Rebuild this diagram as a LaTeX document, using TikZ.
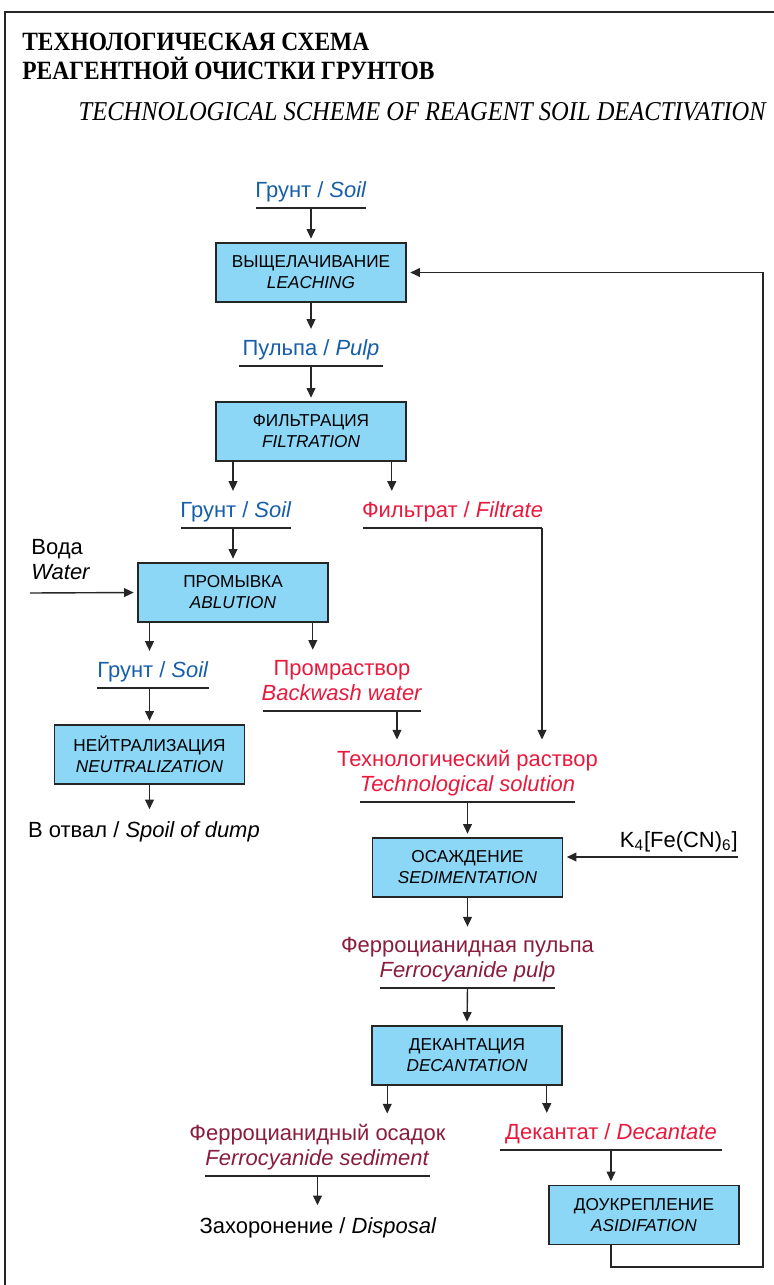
\documentclass[tikz,border=0pt]{standalone}
\usepackage{fontspec}
\setmainfont{Liberation Sans}
\newfontfamily\ttlfont[FakeStretch=0.89]{Liberation Serif}
\newfontfamily\subfont[FakeStretch=0.9]{Liberation Serif}
\usetikzlibrary{arrows.meta,positioning}
\definecolor{soilblue}{HTML}{165EAA}
\definecolor{fred}{HTML}{E8193C}
\definecolor{fmaroon}{HTML}{8A1C3C}
\definecolor{boxfill}{HTML}{8CD6F6}
\definecolor{linegray}{HTML}{262626}
\tikzset{
  proc/.style={draw=linegray, line width=.9pt, fill=boxfill, minimum width=3.8cm,
    minimum height=1.18cm, align=center, inner sep=0pt,
    font=\fontsize{9.8}{12}\selectfont},
  lbl/.style={anchor=south, inner xsep=0pt, inner ysep=.13cm, text depth=.08cm,
    align=center, font=\fontsize{12.5}{14.2}\selectfont},
  txt/.style={inner sep=.16cm, align=center, font=\fontsize{12.5}{14.2}\selectfont},
  arr/.style={draw=linegray, line width=.8pt, -{Triangle[length=5.5pt,width=5pt]},
    shorten >=2pt},
  uline/.style={draw=linegray, line width=.8pt},
  ttl/.style={inner sep=0pt, font=\ttlfont\bfseries\fontsize{15}{18}\selectfont},
  subttl/.style={inner sep=0pt, font=\subfont\itshape\fontsize{15.5}{18}\selectfont},
}
\begin{document}
\begin{tikzpicture}[x=0.02cm, y=-0.02cm]
  \useasboundingbox (0,0) rectangle (774,1285);
  \draw[linegray, line width=.85pt] (5,1290) -- (5,12) -- (780,12);

  \node[ttl, anchor=base west] (ttl1) at (22,50) {ТЕХНОЛОГИЧЕСКАЯ СХЕМА};
  \node[ttl, anchor=base west] (ttl2) at (22,79) {РЕАГЕНТНОЙ ОЧИСТКИ ГРУНТОВ};
  \node[subttl, anchor=base east] (sub) at (766,120) {TECHNOLOGICAL SCHEME OF REAGENT SOIL DEACTIVATION};

  \node[lbl, text=soilblue] (soil1) at (311,208) {Грунт / \textit{Soil}};
  \node[proc] (leach) at (311,272.5) {ВЫЩЕЛАЧИВАНИЕ\\\textit{LEACHING}};
  \node[lbl, text=soilblue] (pulp) at (311,366) {Пульпа / \textit{Pulp}};
  \node[proc] (filt) at (311,431.5) {ФИЛЬТРАЦИЯ\\\textit{FILTRATION}};
  \node[lbl, text=soilblue] (soil2) at (236,528) {Грунт / \textit{Soil}};
  \node[lbl, text=fred] (filtr) at (452.5,528) {Фильтрат / \textit{Filtrate}};
  \node[proc] (abl) at (233,592.5) {ПРОМЫВКА\\\textit{ABLUTION}};
  \node[txt, anchor=south west, inner sep=0pt, text depth=0pt, align=left] (water) at (31,580) {Вода\\\textit{Water}};
  \coordinate (win) at (30,593);
  \node[lbl, text=soilblue] (soil3) at (153,688) {Грунт / \textit{Soil}};
  \node[lbl, text=fred] (wash) at (342,711) {Промраствор\\\textit{Backwash water}};
  \node[proc] (neut) at (149.5,754.5) {НЕЙТРАЛИЗАЦИЯ\\\textit{NEUTRALIZATION}};
  \node[txt, anchor=base] (dump) at (144,837) {В отвал / \textit{Spoil of dump}};
  \node[lbl, text=fred] (tech) at (467.5,802) {Технологический раствор\\\textit{Technological solution}};
  \node[proc] (sed) at (467.5,867.5) {ОСАЖДЕНИЕ\\\textit{SEDIMENTATION}};
  \node[txt, anchor=base east, inner sep=0pt] (k4) at (738,847) {K\textsubscript{4}[Fe(CN)\textsubscript{6}]};
  \coordinate (kin) at (738,857);
  \node[lbl, text=fmaroon] (fpulp) at (467.5,988) {Ферроцианидная пульпа\\\textit{Ferrocyanide pulp}};
  \node[proc] (dec) at (467,1055.5) {ДЕКАНТАЦИЯ\\\textit{DECANTATION}};
  \node[lbl, text=fmaroon] (fsed) at (317.5,1176) {Ферроцианидный осадок\\\textit{Ferrocyanide sediment}};
  \node[lbl, text=fred] (decant) at (611,1150) {Декантат / \textit{Decantate}};
  \node[txt, anchor=base] (disp) at (318,1233) {Захоронение / \textit{Disposal}};
  \node[proc] (acid) at (644,1215) {ДОУКРЕПЛЕНИЕ\\\textit{ASIDIFATION}};
  \coordinate (ret) at (763,1267);

  \foreach \n/\w in {soil1/1.11,pulp/1.45,soil2/1.1,filtr/1.79,soil3/1.12,
      wash/1.58,tech/2.15,fpulp/1.76,fsed/2.25,decant/2.22}
    \draw[uline] ([xshift=-\w cm]\n.south) -- ([xshift=\w cm]\n.south);

  \coordinate (f2) at ([xshift=-.3cm]filt.south east);
  \coordinate (fe) at ([xshift=1.79cm]filtr.south);
  \coordinate (a2) at ([xshift=-.32cm]abl.south east);
  \coordinate (w2) at ([xshift=1.1cm]wash.south);
  \coordinate (d1) at ([xshift=.32cm]dec.south west);
  \coordinate (d2) at ([xshift=-.32cm]dec.south east);

  \draw[arr] (soil1.south) -- (leach.north);
  \draw[arr] (leach.south) -- (pulp.north);
  \draw[arr] (pulp.south) -- (filt.north);
  \draw[arr] (filt.south -| abl.north) -- (soil2.north -| abl.north);
  \draw[arr] (f2) -- (f2 |- filtr.north);
  \draw[arr] (abl.north |- soil2.south) -- (abl.north);
  \draw[arr] (win) -- (abl.west);
  \draw[arr] (abl.south -| neut.north) -- (soil3.north -| neut.north);
  \draw[arr] (a2) -- (a2 |- wash.north);
  \draw[arr] (neut.north |- soil3.south) -- (neut.north);
  \draw[arr] (neut.south) -- (neut.south |- dump.north);
  \draw[arr] (w2) -- (w2 |- tech.north);
  \draw[arr] (fe) -- (fe |- tech.north);
  \draw[arr] (tech.south) -- (sed.north);
  \draw[arr] (kin) -- (kin -| sed.east);
  \draw[arr] (sed.south) -- (fpulp.north);
  \draw[arr] (fpulp.south) -- (dec.north);
  \draw[arr] (d1) -- (d1 |- fsed.north);
  \draw[arr] (d2) -- (d2 |- decant.north);
  \draw[arr] (fsed.south) -- (fsed.south |- disp.north);
  \draw[arr] (decant.south) -- (decant.south |- acid.north);
  \draw[arr] (acid.south -| decant.south) |- (ret) |- (leach.east);
\end{tikzpicture}
\end{document}
